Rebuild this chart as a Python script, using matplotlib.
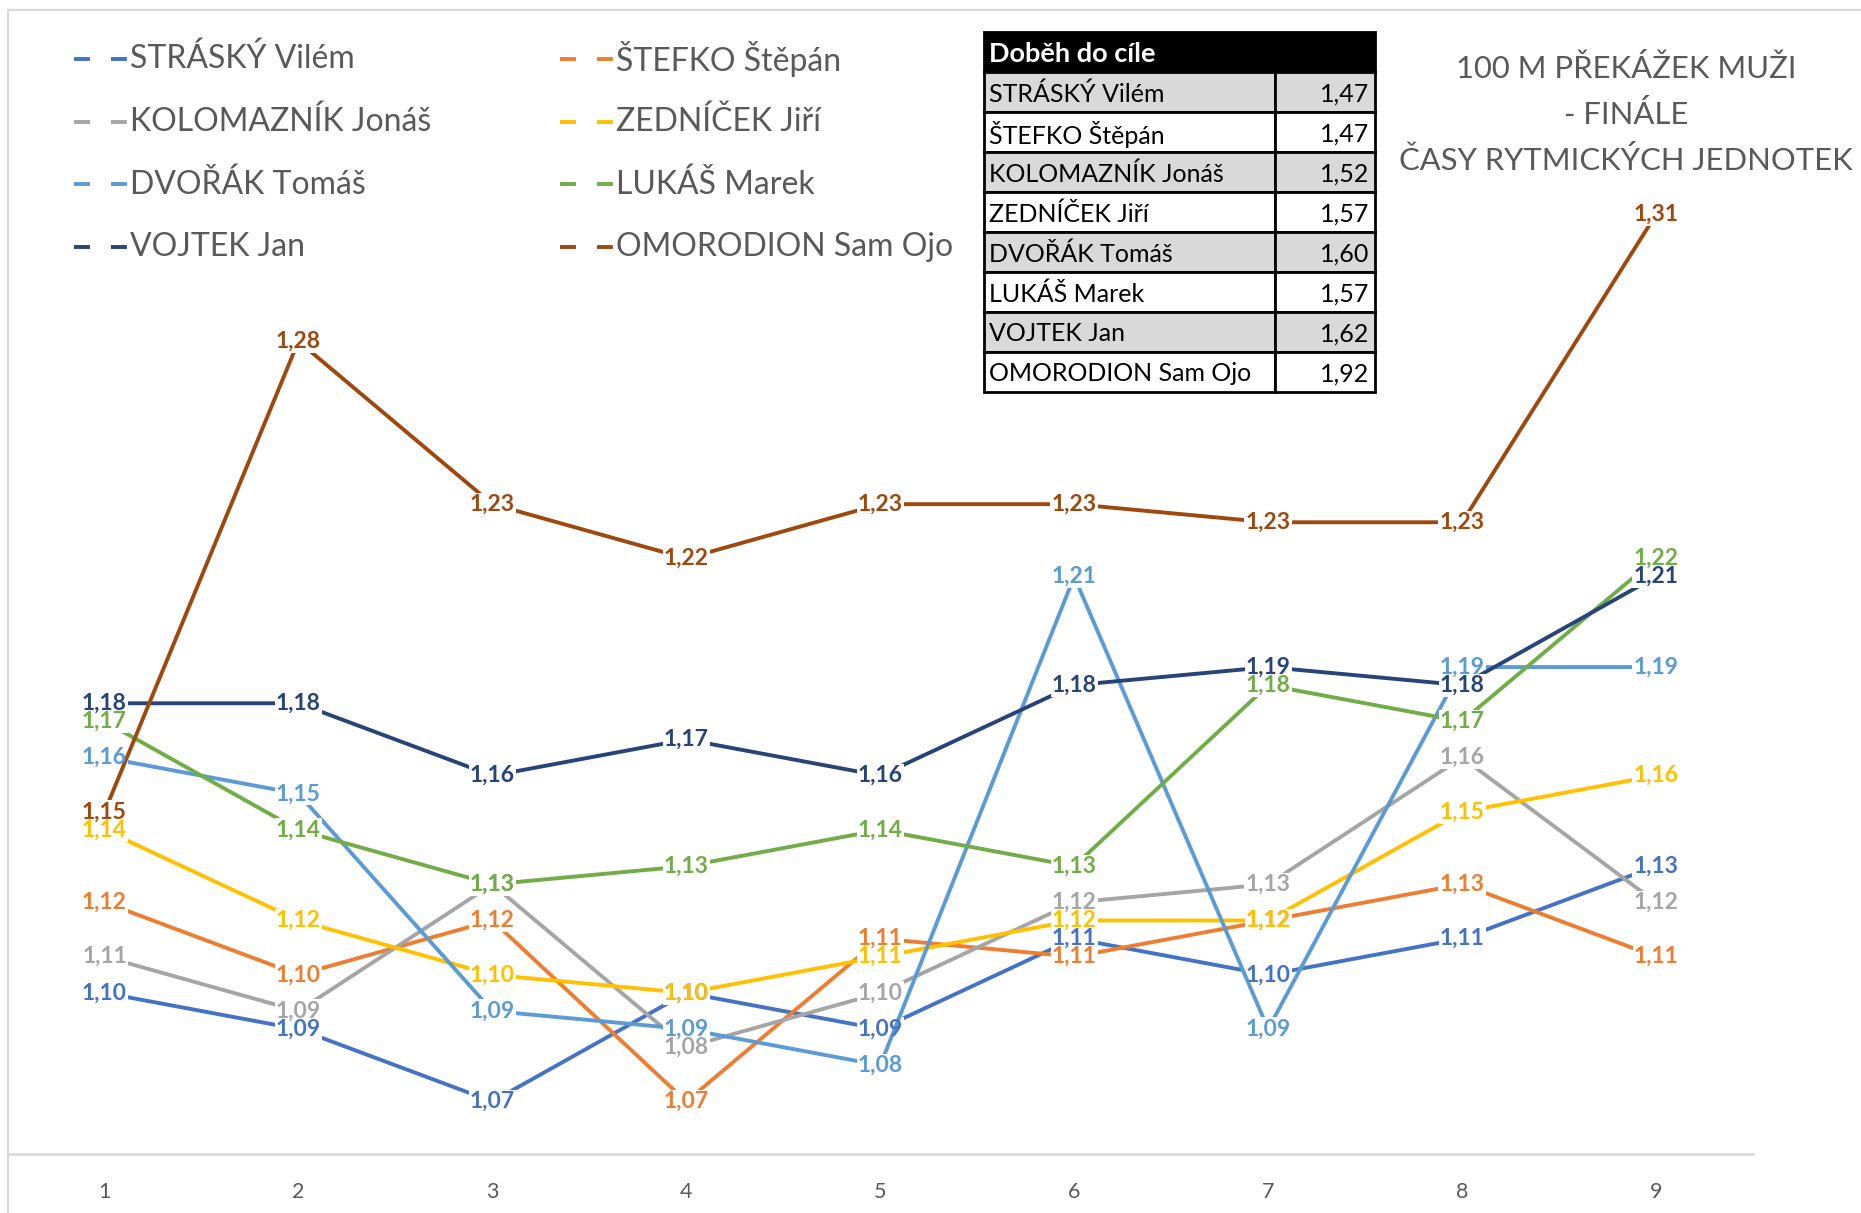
import matplotlib.pyplot as plt
from matplotlib.lines import Line2D
from matplotlib.patches import Rectangle

plt.rcParams['font.family'] = ['Lato', 'DejaVu Sans']

# data
useky = [1, 2, 3, 4, 5, 6, 7, 8, 9]

jmena = ['STRÁSKÝ Vilém', 'ŠTEFKO Štěpán', 'KOLOMAZNÍK Jonáš', 'ZEDNÍČEK Jiří',
         'DVOŘÁK Tomáš', 'LUKÁŠ Marek', 'VOJTEK Jan', 'OMORODION Sam Ojo']
barvy = ['#4472C4', '#ED7D31', '#A5A5A5', '#FFC000',
         '#5B9BD5', '#70AD47', '#264478', '#9E480E']

strasky = [1.0975, 1.0875, 1.0675, 1.0975, 1.0875, 1.1125, 1.1025, 1.1125, 1.1325]
stefko = [1.1225, 1.1025, 1.1175, 1.0675, 1.1125, 1.1075, 1.1175, 1.1275, 1.1075]
kolomaznik = [1.1075, 1.0925, 1.1275, 1.0825, 1.0975, 1.1225, 1.1275, 1.1625, 1.1225]
zednicek = [1.1425, 1.1175, 1.1025, 1.0975, 1.1075, 1.1175, 1.1175, 1.1475, 1.1575]
dvorak = [1.1625, 1.1525, 1.0925, 1.0875, 1.0775, 1.2125, 1.0875, 1.1875, 1.1875]
lukas = [1.1725, 1.1425, 1.1275, 1.1325, 1.1425, 1.1325, 1.1825, 1.1725, 1.2175]
vojtek = [1.1775, 1.1775, 1.1575, 1.1675, 1.1575, 1.1825, 1.1875, 1.1825, 1.2125]
omorodion = [1.1475, 1.2775, 1.2325, 1.2175, 1.2325, 1.2325, 1.2275, 1.2275, 1.3125]

serie = [strasky, stefko, kolomaznik, zednicek, dvorak, lukas, vojtek, omorodion]

dobeh = [1.47, 1.47, 1.52, 1.57, 1.60, 1.57, 1.62, 1.92]

titulek = ['100 M PŘEKÁŽEK MUŽI', '- FINÁLE', 'ČASY RYTMICKÝCH JEDNOTEK']

W, H = 1861, 1213
seda = '#595959'


def carka(v):
    return f'{v + 1e-6:.2f}'.replace('.', ',')


fig = plt.figure(figsize=(W / 100, H / 100), dpi=100)

# hlavni graf
ax = fig.add_axes([7.5 / W, 1 - 1154 / H, (1753 - 7.5) / W, (1154 - 10) / H])
ax.set_xlim(0.5, 9.5)
ax.set_ylim(1.053, 1.369)

for i, (hodnoty, barva) in enumerate(zip(serie, barvy)):
    ax.plot(useky, hodnoty, color=barva, lw=2.8, zorder=2 + 2 * i)
    for x, y in zip(useky, hodnoty):
        # bila mezera kolem popisku (prerusi caru)
        ax.text(x, y, carka(y), color='none', fontsize=16.5, fontweight='bold',
                ha='center', va='center', zorder=3 + 2 * i,
                bbox=dict(fc='white', ec='none', pad=0.8))
        ax.text(x, y, carka(y), color=barva, fontsize=16.5, fontweight='bold',
                ha='center', va='center', zorder=50 + i)

for s in ['top', 'left', 'right']:
    ax.spines[s].set_visible(False)
ax.spines['bottom'].set_color('#D9D9D9')
ax.spines['bottom'].set_linewidth(2)
ax.set_yticks([])
ax.set_xticks(useky)
ax.tick_params(axis='x', length=0, labelsize=15.5, labelcolor=seda, pad=20)

# ramecek
fig.add_artist(Line2D([8 / W, 1], [1 - 10 / H, 1 - 10 / H], color='#D9D9D9', lw=1.5))
fig.add_artist(Line2D([8 / W, 8 / W], [0, 1 - 10 / H], color='#D9D9D9', lw=1.5))

# legenda
for i, (jmeno, barva) in enumerate(zip(jmena, barvy)):
    sloupec = i % 2
    radek = i // 2
    y = 1 - (59 + 62.7 * radek) / H
    x0 = 74 if sloupec == 0 else 560
    fig.add_artist(Line2D([x0 / W, (x0 + 53) / W], [y, y], color=barva, lw=2.8,
                          linestyle=(0, (4.1, 5.4))))
    fig.text((x0 + 56) / W, y, jmeno, va='center', ha='left', fontsize=23, color=seda)

# tabulka
tab = fig.add_axes([984 / W, 1 - 392 / H, 391 / W, 360 / H])
tab.set_xlim(0, 1)
tab.set_ylim(9, 0)
tab.axis('off')
tab.add_patch(Rectangle((0, 0), 1, 1, fc='black', ec='black', lw=2, clip_on=False))
tab.text(0.012, 0.55, 'Doběh do cíle', color='white', fontweight='bold', fontsize=19.5,
         va='center', ha='left')
for r, (jmeno, cas) in enumerate(zip(jmena, dobeh), start=1):
    fc = '#D9D9D9' if r % 2 == 1 else 'white'
    tab.add_patch(Rectangle((0, r), 0.744, 1, fc=fc, ec='black', lw=2, clip_on=False))
    tab.add_patch(Rectangle((0.744, r), 0.256, 1, fc=fc, ec='black', lw=2, clip_on=False))
    tab.text(0.012, r + 0.55, jmeno, fontsize=18, va='center', ha='left', color='black')
    tab.text(0.985, r + 0.55, carka(cas), fontsize=18, va='center', ha='right', color='black')

# nadpis
for k, radek in enumerate(titulek):
    fig.text(1626 / W, 1 - (68 + 46 * k) / H, radek, ha='center', va='center',
             fontsize=22.3, color=seda)

fig.savefig('out.png', dpi=100)
